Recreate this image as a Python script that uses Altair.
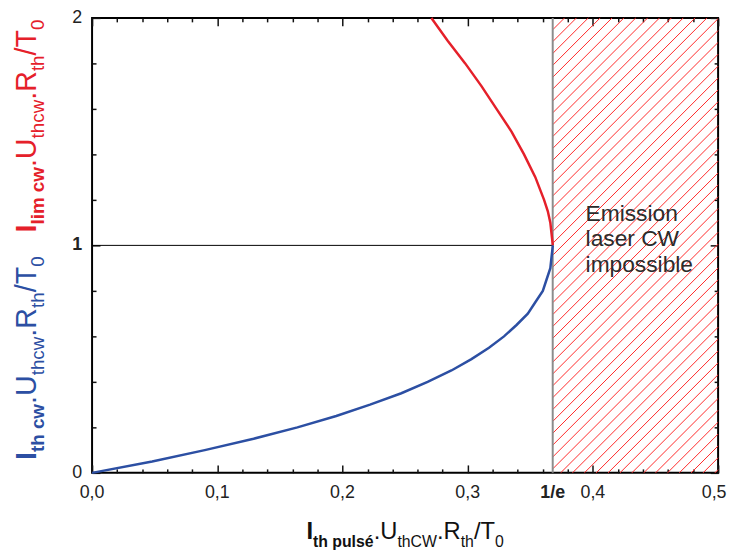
import altair as alt
import pandas as pd

# ---------------- data ----------------
blue_y = [0.0, 0.05, 0.10, 0.15, 0.20, 0.25, 0.30, 0.35, 0.40, 0.45, 0.50,
          0.55, 0.60, 0.65, 0.70, 0.75, 0.80, 0.85, 0.90, 0.95, 1.00]
blue_x = [0.0, 0.048, 0.090, 0.129, 0.164, 0.195, 0.222, 0.247, 0.268, 0.287, 0.303,
          0.317, 0.329, 0.339, 0.348, 0.354, 0.360, 0.363, 0.366, 0.367, 0.368]
red_y = [1.00, 1.05, 1.10, 1.15, 1.20, 1.30, 1.40, 1.50, 1.60, 1.70, 1.80, 1.90, 2.00]
red_x = [0.368, 0.367, 0.366, 0.364, 0.361, 0.354, 0.345, 0.335, 0.323, 0.311, 0.298, 0.284, 0.271]

inv_e = 0.3679
x_major = [0.0, 0.1, 0.2, 0.3, 0.4, 0.5]
x_minor = [0.02, 0.04, 0.06, 0.08, 0.12, 0.14, 0.16, 0.18, 0.22, 0.24, 0.26, 0.28,
           0.32, 0.34, 0.36, 0.38, 0.42, 0.44, 0.46, 0.48]
y_major = [0, 1, 2]
y_minor = [0.2, 0.4, 0.6, 0.8, 1.2, 1.4, 1.6, 1.8]
x_label_values = [0.0, 0.1, 0.2, 0.3, inv_e, 0.4, 0.5]
x_label_text = ["0,0", "0,1", "0,2", "0,3", "1/e", "0,4", "0,5"]
x_label_bold = [False, False, False, False, True, False, False]
y_label_values = [0, 1, 2]
y_label_text = ["0", "1", "2"]
y_label_bold = [False, True, False]
annotation_lines = ["Emission", "laser CW", "impossible"]

RED = "#e5202a"
BLUE = "#2c4fa3"
FONT = "Liberation Sans"

W, H = 633, 460
X_MAX, Y_MAX = 0.5, 2.0
sx, sy = W / X_MAX, H / Y_MAX

xscale = alt.Scale(domain=[0, X_MAX], nice=False, zero=False)
yscale = alt.Scale(domain=[0, Y_MAX], nice=False, zero=False)


def X(field="x"):
    return alt.X(f"{field}:Q", scale=xscale, axis=None)


def Y(field="y"):
    return alt.Y(f"{field}:Q", scale=yscale, axis=None)


layers = []

# ---------------- hatched region (decoration pattern) ----------------
u0, u1 = inv_e * sx, X_MAX * sx
spacing = 12.0
hatch = []
c = u0 - H
while c < u1:
    us, ue = max(u0, c), min(u1, c + H)
    if us < ue:
        hatch.append({"x": us / sx, "y": (us - c) / sy, "x2": ue / sx, "y2": (ue - c) / sy})
    c += spacing
layers.append(
    alt.Chart(pd.DataFrame(hatch)).mark_rule(color="#ff2b2b", strokeWidth=1)
    .encode(x=X(), y=Y(), x2="x2:Q", y2="y2:Q")
)

# vertical gray boundary at 1/e
layers.append(
    alt.Chart(pd.DataFrame({"x": [inv_e], "y": [0.0], "y2": [Y_MAX]}))
    .mark_rule(color="#8c8c8c", strokeWidth=2).encode(x=X(), y=Y(), y2="y2:Q")
)
# horizontal black line at 1
layers.append(
    alt.Chart(pd.DataFrame({"x": [0.0], "x2": [inv_e], "y": [1.0]}))
    .mark_rule(color="black", strokeWidth=1).encode(x=X(), x2="x2:Q", y=Y())
)

# curves
blue_df = pd.DataFrame({"x": blue_x, "y": blue_y, "i": range(len(blue_x))})
red_df = pd.DataFrame({"x": red_x, "y": red_y, "i": range(len(red_x))})
layers.append(alt.Chart(red_df).mark_line(color=RED, strokeWidth=2.5)
              .encode(x=X(), y=Y(), order="i:Q"))
layers.append(alt.Chart(blue_df).mark_line(color=BLUE, strokeWidth=2.5)
              .encode(x=X(), y=Y(), order="i:Q"))


# ---------------- inward ticks drawn by axes pulled inside the frame ----------------
def tick_layer(channel, vals, orient, ln):
    ax = alt.Axis(orient=orient, values=vals, offset=-ln, tickSize=ln, ticks=True,
                  labels=False, domain=False, grid=False, title=None,
                  tickColor="#111111", tickWidth=1.5)
    d = pd.DataFrame({"v": vals})
    if channel == "x":
        enc = {"x": alt.X("v:Q", scale=xscale, axis=ax)}
    else:
        enc = {"y": alt.Y("v:Q", scale=yscale, axis=ax)}
    return alt.Chart(d).mark_point(opacity=0, size=1).encode(**enc)


for orient in ("bottom", "top"):
    layers.append(tick_layer("x", x_major, orient, 8))
    layers.append(tick_layer("x", x_minor, orient, 4))
for orient in ("left", "right"):
    layers.append(tick_layer("y", y_major, orient, 8))
    layers.append(tick_layer("y", y_minor, orient, 4))

# tick labels
xl = pd.DataFrame({"x": x_label_values, "t": x_label_text, "b": x_label_bold,
                   "y": [-11 / sy] * len(x_label_values)})
groups = [
    (xl[(~xl["b"]) & (xl["x"] < 0.45)], "normal", 0),
    (xl[xl["b"]], "bold", 0),
    (xl[xl["x"] > 0.45], "normal", -4),
]
for d, fw, dx in groups:
    layers.append(alt.Chart(d).mark_text(align="center", baseline="top", font=FONT, fontSize=18,
                                         fontWeight=fw, color="#222222", dx=dx)
                  .encode(x=X(), y=Y(), text="t:N"))
yl = pd.DataFrame({"y": y_label_values, "t": y_label_text, "b": y_label_bold,
                   "x": [-10 / sx] * len(y_label_values)})
for bold in (False, True):
    d = yl[yl["b"] == bold]
    layers.append(alt.Chart(d).mark_text(align="right", baseline="middle", font=FONT, fontSize=18,
                                         fontWeight="bold" if bold else "normal", color="#222222")
                  .encode(x=X(), y=Y(), text="t:N"))

# annotation text
for k, line in enumerate(annotation_lines):
    layers.append(
        alt.Chart(pd.DataFrame({"t": [line]}))
        .mark_text(align="left", baseline="alphabetic", font=FONT, fontSize=23, color="#2b2b2b")
        .encode(x=alt.value(499), y=alt.value(205 + 26 * k), text="t:N")
    )

# ---------------- axis titles with subscripts ----------------
REG = {" ": 278, ".": 278, "/": 278, "0": 556, "C": 722, "R": 722, "T": 611, "U": 722,
       "W": 944, "c": 500, "h": 556, "t": 278, "w": 722, "l": 222, "i": 222, "m": 833,
       "p": 556, "u": 556, "s": 500, "é": 556, "e": 556, "I": 278}
BLD = {" ": 278, "I": 278, "t": 333, "h": 611, "p": 611, "u": 611, "l": 278, "s": 556,
       "é": 556, "c": 556, "w": 778, "i": 278, "m": 889, "e": 556}


def tw(s, size, bold):
    tab = BLD if bold else REG
    return sum(tab[ch] for ch in s) * size / 1000.0


x_title = [("I", False, True), ("th pulsé", True, True), (".", False, False),
           ("U", False, False), ("thCW", True, False), (".", False, False),
           ("R", False, False), ("th", True, False), ("/T", False, False), ("0", True, False)]
red_title = [("I", False, True), ("lim cw", True, True), (".", False, False),
             ("U", False, False), ("thcw", True, False), (".", False, False),
             ("R", False, False), ("th", True, False), ("/T", False, False), ("0", True, False)]
blue_title = [("I", False, True), ("th cw", True, True), (".", False, False),
              ("U", False, False), ("thcw", True, False), (".", False, False),
              ("R", False, False), ("th", True, False), ("/T", False, False), ("0", True, False)]


def add_horizontal(parts, big, small, baseline, shift, color):
    total = sum(tw(t, small if s else big, b) for t, s, b in parts)
    pos = W / 2 - total / 2
    for t, s, b in parts:
        size = small if s else big
        layers.append(
            alt.Chart(pd.DataFrame({"t": [t]}))
            .mark_text(align="left", baseline="alphabetic", font=FONT, fontSize=size,
                       fontWeight="bold" if b else "normal", color=color)
            .encode(x=alt.value(pos), y=alt.value(baseline + (shift if s else 0)), text="t:N")
        )
        pos += tw(t, size, b)


def add_vertical(parts, big, small, start, baseline, shift, color):
    pos = start
    for t, s, b in parts:
        size = small if s else big
        layers.append(
            alt.Chart(pd.DataFrame({"t": [t]}))
            .mark_text(align="left", baseline="alphabetic", angle=270, font=FONT, fontSize=size,
                       fontWeight="bold" if b else "normal", color=color)
            .encode(x=alt.value(baseline + (shift if s else 0)), y=alt.value(pos), text="t:N")
        )
        pos -= tw(t, size, b)


add_horizontal(x_title, 24, 16, 527, 8, "#111111")
add_vertical(red_title, 29, 19, 217, -57, 8, RED)
add_vertical(blue_title, 29, 19, 447, -57, 8, BLUE)

chart = alt.layer(*layers).resolve_axis(x="independent", y="independent").properties(
    width=W, height=H,
    autosize=alt.AutoSizeParams(type="none"),
    padding={"left": 85, "top": 7, "right": 10, "bottom": 76},
).configure_view(stroke="black", strokeWidth=2)

chart.save("out.html", embed_options={"renderer": "svg", "actions": False})
